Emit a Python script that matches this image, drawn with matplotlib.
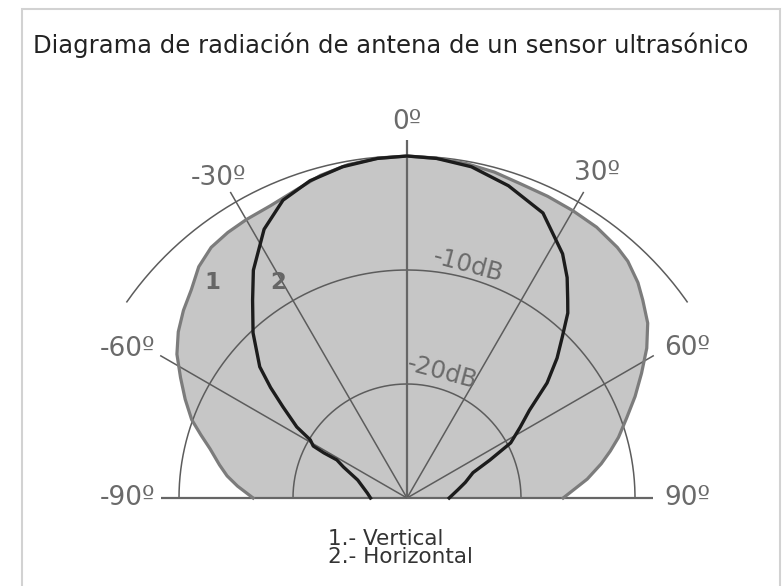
import numpy as np
import matplotlib
matplotlib.use('Agg')
import matplotlib.pyplot as plt
from matplotlib.patches import Rectangle

# radiation pattern, angle in degrees from boresight, level in dB (0 dB = outer ring)
vert_angle = [-90, -86, -83, -80, -76, -73, -70, -66, -62, -58, -54, -50, -46, -42,
              -38, -34, -30, -25, -20, -15, -10, -5, 0, 5, 10, 15, 20, 25, 30, 35,
              40, 43, 47, 50, 54, 58, 62, 66, 70, 74, 77, 80, 84, 87, 90]
vert_db = [-16.5, -15.1, -14.1, -13.3, -12.2, -11.1, -9.9, -8.7, -7.5, -6.2, -5.2, -4.4,
           -3.7, -2.7, -2.1, -1.9, -1.8, -1.7, -1.3, -0.7, -0.3, -0.1, 0.0, -0.1, -0.2,
           -0.4, -0.7, -0.8, -0.9, -1.0, -1.3, -1.6, -2.3, -3.0, -3.9, -5.2, -6.7, -8.1,
           -9.5, -10.7, -11.7, -12.7, -14.1, -15.3, -16.3]

horiz_angle = [-90, -83, -70, -64, -61.5, -61.5, -61, -59, -57.2, -53.7, -51, -48.3, -43,
               -38, -34, -28, -22.6, -17, -11, -5, 0, 5, 11, 18, 25.5, 32.5, 36, 39, 41,
               44, 47, 50.6, 54.4, 58, 62, 65.4, 69, 75, 81, 90]
horiz_db = [-26.8, -26.5, -25.4, -23.8, -23.0, -21.7, -20.6, -20.1, -18.5, -16.5, -14.6,
            -12.7, -10.2, -8.0, -5.9, -3.3, -1.7, -0.9, -0.4, -0.1, 0.0, -0.1, -0.4, -1.2,
            -2.3, -4.6, -6.1, -7.6, -8.5, -10.4, -12.0, -14.1, -16.8, -18.3, -19.7, -22.0,
            -23.8, -24.7, -25.5, -26.3]

spoke_angles = [-90, -60, -30, 0, 30, 60, 90]
spoke_labels = ['-90º', '-60º', '-30º', '0º', '30º', '60º', '90º']
ring_db = [-10, -20]
ring_labels = ['-10dB', '-20dB']

DB_RANGE = 30.0          # 0 dB ring sits 30 units from the centre
PX = 11.4                # pixels per unit
CX, CY = 407, 498        # centre of the diagram in pixels

grid_c = '#5c5c5c'
label_c = '#6a6a6a'


def to_xy(angle, db):
    a = np.radians(np.asarray(angle, dtype=float))
    r = np.asarray(db, dtype=float) + DB_RANGE
    return r * np.sin(a), r * np.cos(a)


def arc(ax, r, a0, a1, **kw):
    t = np.radians(np.linspace(a0, a1, 200))
    ax.plot(r * np.sin(t), r * np.cos(t), **kw)


fig = plt.figure(figsize=(7.82, 5.86), dpi=100)
fig.patch.set_facecolor('white')
ax = fig.add_axes([0, 0, 1, 1])
ax.set_xlim(-CX / PX, (782 - CX) / PX)
ax.set_ylim(-(586 - CY) / PX, CY / PX)
ax.axis('off')

# pattern 1 (vertical): filled lobe
vx, vy = to_xy(vert_angle, vert_db)
ax.fill(vx, vy, color='#c6c6c6', zorder=1, lw=0)

# grid: rings and spokes
arc(ax, DB_RANGE, -55, 55, color=grid_c, lw=1.1, zorder=2)
for d in ring_db:
    arc(ax, DB_RANGE + d, -90, 90, color=grid_c, lw=1.1, zorder=2)
spoke_len = {0: 31.4, 30: 31.0, 60: 25.0, 90: 21.6}
for a in spoke_angles:
    L = spoke_len[abs(a)]
    t = np.radians(a)
    lw = 1.6 if a in (0, -90, 90) else 1.1
    ax.plot([0, L * np.sin(t)], [0, L * np.cos(t)], color='#666666' if lw > 1.5 else grid_c,
            lw=lw, zorder=2, solid_capstyle='butt')

ax.plot(vx, vy, color='#7c7c7c', lw=2.3, zorder=3, solid_joinstyle='round')

# pattern 2 (horizontal)
hx, hy = to_xy(horiz_angle, horiz_db)
ax.plot(hx, hy, color='#1c1c1c', lw=2.4, zorder=4, solid_joinstyle='round')

# angle labels
label_pos = {-90: (-90, 24.5), -60: (-62, 27.8), -30: (-30.5, 32.6), 0: (0, 33.0),
             30: (30.3, 33.0), 60: (61.8, 27.9), 90: (90, 24.6)}
for a, s in zip(spoke_angles, spoke_labels):
    pa, pr = label_pos[a]
    t = np.radians(pa)
    ax.text(pr * np.sin(t), pr * np.cos(t), s, ha='center', va='center',
            fontsize=19, color=label_c, zorder=5)

# ring labels
ring_pos = [(5.35, 20.4), (3.07, 11.05)]
for (x, y), s in zip(ring_pos, ring_labels):
    ax.text(x, y, s, ha='center', va='center', rotation=-15, fontsize=17.5,
            color=label_c, zorder=5)

ax.text(-17.1, 18.9, '1', ha='center', va='center', fontsize=16.5, color='#666666',
        fontweight='bold', zorder=5)
ax.text(-11.3, 18.9, '2', ha='center', va='center', fontsize=16.5, color='#666666',
        fontweight='bold', zorder=5)

fig.text(0.5, 1 - 45 / 586, 'Diagrama de radiación de antena de un sensor ultrasónico',
         ha='center', va='center', fontsize=17.5, color='#222222')
fig.text(328 / 782, 1 - 529 / 586, '1.- Vertical\n2.- Horizontal', ha='left', va='top',
         fontsize=15.5, color='#333333', linespacing=0.85)

fig.patches.append(Rectangle((22 / 782, -0.05), 758 / 782, 1.05 - 9 / 586,
                             transform=fig.transFigure, fill=False,
                             edgecolor='#d2d2d2', lw=1.5))

fig.savefig('out.png', dpi=100, facecolor='white')
